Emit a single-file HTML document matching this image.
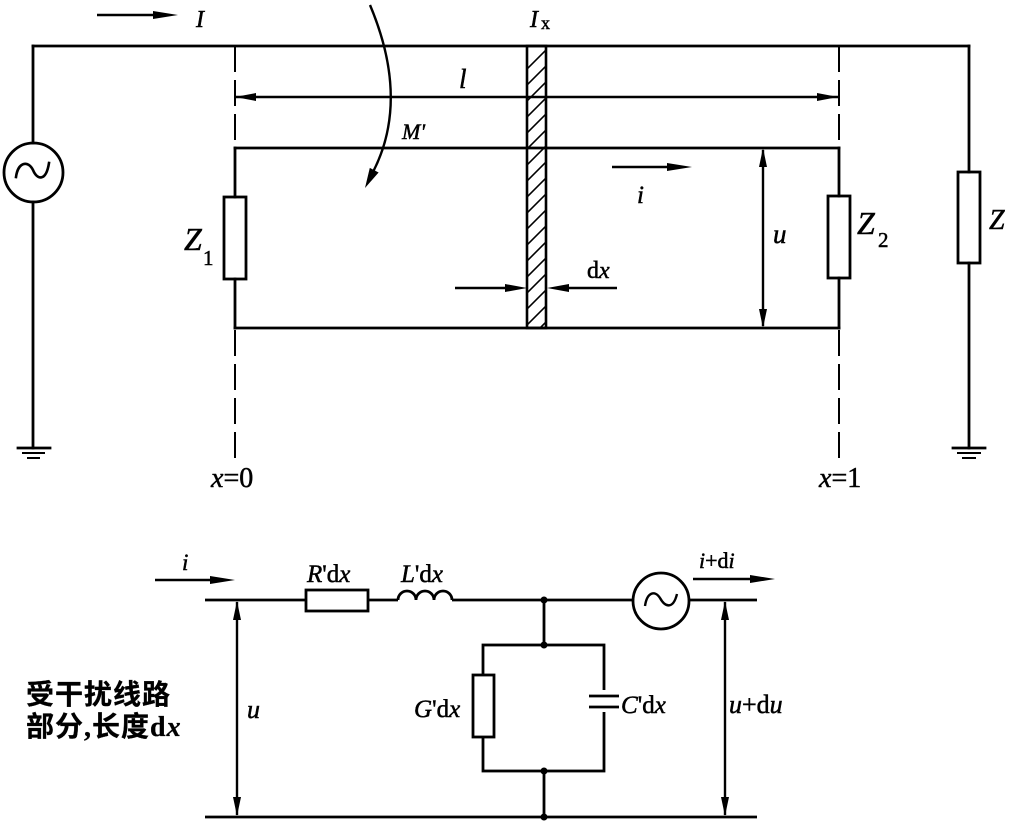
<!DOCTYPE html>
<html><head><meta charset="utf-8"><style>
html,body{margin:0;padding:0;background:#fff;}
svg{display:block;}
text{font-family:"Liberation Serif","Noto Serif CJK SC",serif;fill:#000;stroke:#000;stroke-width:0.5px;}
.it{font-style:italic;}
.cn{font-family:"Liberation Serif","Noto Sans CJK SC",sans-serif;font-weight:bold;stroke-width:0.3px;}
</style></head><body>
<svg width="1009" height="823" viewBox="0 0 1009 823" xmlns="http://www.w3.org/2000/svg">
<defs>
<clipPath id="hc"><rect x="527" y="46" width="19" height="282"/></clipPath>
</defs>
<g stroke="#000" stroke-width="2.8" fill="none" stroke-linecap="square">
<line x1="33" y1="46" x2="969" y2="46"/>
<line x1="33" y1="46" x2="33" y2="143"/>
<line x1="33" y1="202" x2="33" y2="448"/>
<circle cx="33.5" cy="172.5" r="29.5"/>
<path d="M16,177 C18,162 28,160 33,170 C37,180 46,182 49,163" stroke-width="2.6"/>
<line x1="18" y1="448" x2="50" y2="448"/>
<line x1="23" y1="453" x2="44" y2="453" stroke-width="2"/>
<line x1="28" y1="458" x2="39" y2="458" stroke-width="2"/>
<line x1="969" y1="46" x2="969" y2="172"/>
<rect x="958" y="172" width="22" height="91"/>
<line x1="969" y1="263" x2="969" y2="448"/>
<line x1="953" y1="448" x2="985" y2="448"/>
<line x1="958" y1="453" x2="980" y2="453" stroke-width="2"/>
<line x1="963" y1="458" x2="975" y2="458" stroke-width="2"/>
<line x1="235" y1="148" x2="839" y2="148"/>
<line x1="235" y1="328" x2="839" y2="328"/>
<line x1="235" y1="148" x2="235" y2="197"/>
<rect x="224" y="197" width="22" height="82"/>
<line x1="235" y1="279" x2="235" y2="328"/>
<line x1="839" y1="148" x2="839" y2="196"/>
<rect x="828" y="196" width="22" height="82"/>
<line x1="839" y1="278" x2="839" y2="328"/>
</g>
<g stroke="#000" stroke-width="2" fill="none" stroke-dasharray="26 8">
<line x1="235" y1="46" x2="235" y2="148"/>
<line x1="235" y1="330" x2="235" y2="458"/>
<line x1="839" y1="46" x2="839" y2="148"/>
<line x1="839" y1="330" x2="839" y2="458"/>
</g>
<g clip-path="url(#hc)" stroke="#000" stroke-width="1.6">
<line x1="520" y1="76" x2="556" y2="40"/>
<line x1="520" y1="92" x2="556" y2="56"/>
<line x1="520" y1="108" x2="556" y2="72"/>
<line x1="520" y1="124" x2="556" y2="88"/>
<line x1="520" y1="140" x2="556" y2="104"/>
<line x1="520" y1="156" x2="556" y2="120"/>
<line x1="520" y1="172" x2="556" y2="136"/>
<line x1="520" y1="188" x2="556" y2="152"/>
<line x1="520" y1="204" x2="556" y2="168"/>
<line x1="520" y1="220" x2="556" y2="184"/>
<line x1="520" y1="236" x2="556" y2="200"/>
<line x1="520" y1="252" x2="556" y2="216"/>
<line x1="520" y1="268" x2="556" y2="232"/>
<line x1="520" y1="284" x2="556" y2="248"/>
<line x1="520" y1="300" x2="556" y2="264"/>
<line x1="520" y1="316" x2="556" y2="280"/>
<line x1="520" y1="332" x2="556" y2="296"/>
<line x1="520" y1="348" x2="556" y2="312"/>
</g>
<rect x="527" y="46" width="19" height="282" fill="none" stroke="#000" stroke-width="2.6"/>
<g stroke="#000" stroke-width="2.4" fill="none">
<line x1="97" y1="15" x2="160" y2="15"/>
<line x1="235" y1="97" x2="838" y2="97"/>
<line x1="612" y1="167" x2="672" y2="167"/>
<line x1="763" y1="150" x2="763" y2="326"/>
<line x1="455" y1="288" x2="510" y2="288"/>
<line x1="564" y1="288" x2="617" y2="288"/>
<path d="M370,5 Q410,100 373,172"/>
</g>
<g fill="#000">
<polygon points="178,15 153,11 153,19"/>
<polygon points="235,97 256,93 256,101"/>
<polygon points="838,97 817,93 817,101"/>
<polygon points="692,167 667,163 667,171"/>
<polygon points="763,148 759,167 767,167"/>
<polygon points="763,328 759,309 767,309"/>
<polygon points="527,288 505,284 505,292"/>
<polygon points="547,288 569,284 569,292"/>
<polygon points="365,188 378.6,172.5 369.8,167.9"/>
</g>
<text x="196" y="27" class="it" font-size="24">I</text>
<text x="530" y="27" class="it" font-size="24">I</text>
<text x="541" y="29" font-size="18">x</text>
<text x="459" y="88" class="it" font-size="27">l</text>
<text x="402" y="139" class="it" font-size="22">M'</text>
<text x="637" y="203" class="it" font-size="25">i</text>
<text x="773" y="243" class="it" font-size="27">u</text>
<text x="184" y="250" class="it" font-size="32">Z</text>
<text x="203" y="265" font-size="21">1</text>
<text x="857" y="234" class="it" font-size="32">Z</text>
<text x="878" y="247" font-size="21">2</text>
<text x="989" y="229" class="it" font-size="28">Z</text>
<text x="587" y="278" font-size="24">d<tspan class="it">x</tspan></text>
<text x="211" y="487" font-size="28"><tspan class="it">x</tspan>=0</text>
<text x="819" y="487" font-size="28"><tspan class="it">x</tspan>=1</text>
<g stroke="#000" stroke-width="2.8" fill="none">
<line x1="205" y1="600" x2="306" y2="600"/>
<rect x="306" y="590" width="62" height="21"/>
<line x1="368" y1="600" x2="398" y2="600"/>
<path d="M398,600 a9,9 0 0 1 18,0 a9,9 0 0 1 18,0 a9,9 0 0 1 18,0"/>
<line x1="452" y1="600" x2="633" y2="600"/>
<circle cx="661" cy="601" r="28"/>
<path d="M645,606 C647,592 655,590 660,598 C665,607 673,610 677,594" stroke-width="2.4"/>
<line x1="689" y1="600" x2="757" y2="600"/>
<line x1="205" y1="817" x2="757" y2="817"/>
<line x1="544" y1="600" x2="544" y2="645"/>
<line x1="544" y1="771" x2="544" y2="817"/>
<rect x="483" y="645" width="121" height="126"/>
<rect x="473" y="675" width="21" height="62" fill="#fff"/>
<line x1="604" y1="690" x2="604" y2="712" stroke="#fff" stroke-width="5"/>
<line x1="589" y1="696" x2="619" y2="696"/>
<line x1="589" y1="707" x2="619" y2="707"/>
</g>
<g stroke="#000" stroke-width="2.4" fill="none">
<line x1="155" y1="580" x2="215" y2="580"/>
<line x1="693" y1="579" x2="755" y2="579"/>
<line x1="237" y1="602" x2="237" y2="815"/>
<line x1="725" y1="602" x2="725" y2="815"/>
</g>
<g fill="#000">
<polygon points="235,580 210,576 210,584"/>
<polygon points="775,579 750,575 750,583"/>
<polygon points="237,601 233,620 241,620"/>
<polygon points="237,816 233,797 241,797"/>
<polygon points="725,601 721,620 729,620"/>
<polygon points="725,816 721,797 729,797"/>
<circle cx="544" cy="600" r="3.5"/>
<circle cx="544" cy="645" r="3.5"/>
<circle cx="544" cy="771" r="3.5"/>
<circle cx="544" cy="817" r="3.5"/>
</g>
<text x="182" y="570" class="it" font-size="23">i</text>
<text x="307" y="582" font-size="25"><tspan class="it">R</tspan>'d<tspan class="it">x</tspan></text>
<text x="401" y="582" font-size="25"><tspan class="it">L</tspan>'d<tspan class="it">x</tspan></text>
<text x="699" y="568" font-size="22"><tspan class="it">i</tspan>+d<tspan class="it">i</tspan></text>
<text x="414" y="717" font-size="25"><tspan class="it">G</tspan>'d<tspan class="it">x</tspan></text>
<text x="621" y="713" font-size="25"><tspan class="it">C</tspan>'d<tspan class="it">x</tspan></text>
<text x="729" y="713" font-size="26"><tspan class="it">u</tspan>+d<tspan class="it">u</tspan></text>
<text x="247" y="718" class="it" font-size="26">u</text>
<text x="26" y="704" class="cn" font-size="28" letter-spacing="1">受干扰线路</text>
<text x="26" y="736" class="cn" font-size="28" letter-spacing="1">部分,长度d<tspan class="it" font-family="Liberation Serif, serif">x</tspan></text>
</svg>
</body></html>
